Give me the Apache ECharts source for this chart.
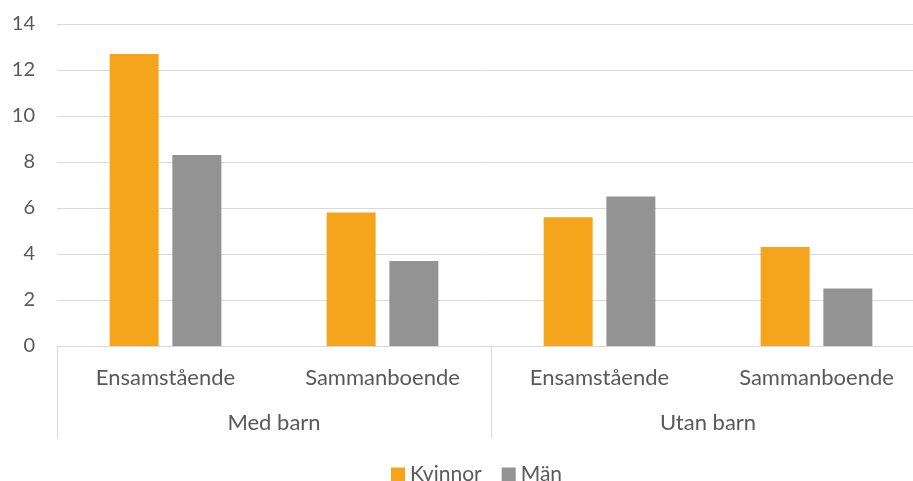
<!DOCTYPE html>
<html>
<head>
<meta charset="utf-8">
<script src="https://cdn.jsdelivr.net/npm/echarts@6/dist/echarts.min.js"></script>
<style>
  html, body { margin: 0; padding: 0; background: #fff; }
  #main { width: 913px; height: 481px; }
</style>
</head>
<body>
<div id="main"></div>
<script>
// kategorier
var subCategories = ['Ensamstående', 'Sammanboende', 'Ensamstående', 'Sammanboende'];
var groups = ['Med barn', 'Utan barn'];
// serier
var kvinnor = [12.7, 5.8, 5.6, 4.3];
var man = [8.3, 3.7, 6.5, 2.5];

var textColor = '#595959';
var lineColor = '#D9D9D9';
var font = 'Lato';

var chart = echarts.init(document.getElementById('main'));
chart.setOption({
    animation: false,
    textStyle: { fontFamily: font },
    // plottet går lite utanför bilden till höger
    grid: { left: 57, width: 868, top: 24, bottom: 135, outerBoundsMode: 'none', containLabel: false },
    legend: {
        top: 459,
        left: 386,
        icon: 'rect',
        itemWidth: 14,
        itemHeight: 14,
        itemGap: 20,
        textStyle: { color: textColor, fontSize: 21, fontFamily: font },
        data: ['Kvinnor', 'Män']
    },
    xAxis: [{
        type: 'category',
        data: subCategories,
        position: 'bottom',
        axisLine: { lineStyle: { color: lineColor, width: 1 } },
        axisTick: { show: false },
        axisLabel: { color: textColor, fontSize: 22, margin: 21, interval: 0 }
    }, {
        type: 'category',
        data: groups,
        position: 'bottom',
        axisLine: { show: false },
        axisTick: { show: true, length: 92, interval: 0, lineStyle: { color: lineColor, width: 1 } },
        axisLabel: { color: textColor, fontSize: 22, margin: 66, interval: 0 }
    }],
    yAxis: {
        type: 'value',
        min: 0,
        max: 14,
        interval: 2,
        axisLine: { show: false },
        axisTick: { show: false },
        axisLabel: { color: textColor, fontSize: 20, margin: 22 },
        splitLine: { lineStyle: { color: lineColor, width: 1 } }
    },
    series: [{
        name: 'Kvinnor',
        type: 'bar',
        data: kvinnor,
        barWidth: 49,
        barGap: '28%',
        itemStyle: { color: '#F4A51B' }
    }, {
        name: 'Män',
        type: 'bar',
        data: man,
        barWidth: 49,
        barGap: '28%',
        itemStyle: { color: '#939393' }
    }]
});
</script>
</body>
</html>
